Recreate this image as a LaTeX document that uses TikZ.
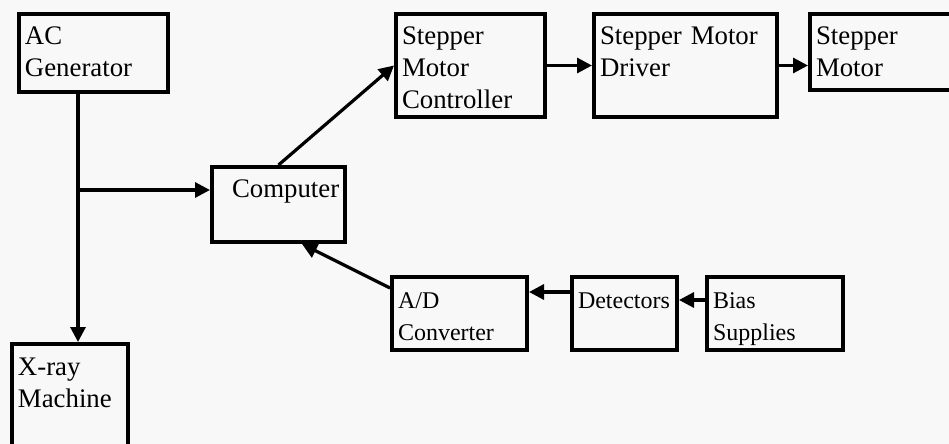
\documentclass[tikz,border=0pt]{standalone}
\usepackage{fontspec}
\setmainfont{Liberation Serif}
\usetikzlibrary{arrows.meta}
\definecolor{paper}{RGB}{248,248,248}

\begin{document}
\begin{tikzpicture}[x=0.5pt,y=-0.5pt,>={Triangle[length=7.5pt,width=7.5pt]}]

    \tikzset{
      blk/.style={draw, line width=2pt, anchor=north west, align=left,
        inner xsep=3pt, inner ysep=4.3pt, text height=11.2pt,
        font=\fontsize{13.4}{16}\selectfont},
      small/.style={font=\fontsize{12}{16}\selectfont},
      arr/.style={->, line width=1.6pt}
    }

    % Page background
    \fill[paper] (0,0) rectangle (949,444);
    \useasboundingbox (0,0) rectangle (949,444);
    \clip (0,0) rectangle (949,444);

    % Left column: generator and X-ray machine
    \node[blk, text width=68.5pt, text depth=19.2pt] (gen) at (17,12) {AC\\Generator};
    \node[blk, text width=52pt, text depth=44.2pt] (xray) at (10,342) {X-ray\\Machine};

    % Computer
    \node[blk, text width=60.5pt, text depth=17.7pt] (comp) at (210,165) {\hspace*{7pt}\mbox{Computer}};

    % Stepper motor chain
    \node[blk, text width=68.5pt, text depth=31.7pt] (ctrl) at (394,12) {Stepper\\Motor\\Controller};
    \node[blk, text width=85.5pt, text depth=31.7pt] (drv) at (592,12) {Stepper Motor\\Driver};
    \node[blk, text width=70pt, text depth=18.2pt] (mot) at (808,12) {Stepper\\Motor};

    % Measuring chain
    \node[blk, small, text width=61.5pt, text depth=16.7pt] (adc) at (390,275) {A/D\\Converter};
    \node[blk, small, text width=46.5pt, text depth=16.7pt] (det) at (570,275) {Detectors};
    \node[blk, small, text width=62pt, text depth=16.7pt] (bias) at (705,275) {Bias\\Supplies};

    % Branch point under the generator
    \coordinate (j) at (78,190);

    % Connections
    \draw[arr] (gen.south -| j) -- (xray.north -| j);
    \draw[arr] (j) -- (comp.west |- j);
    \draw[arr] (comp.north) -- (ctrl.west);
    \draw[arr] (ctrl.east) -- (drv.west);
    \draw[arr] (drv.east) -- (mot.west |- drv.east);
    \draw[arr] ([yshift=-12.5pt]bias.north west) -- ([yshift=-12.5pt]det.north east);
    \draw[arr] ([yshift=-8.5pt]det.north west) -- ([yshift=-8.5pt]adc.north east);
    \draw[arr] ([yshift=-6.5pt]adc.north west) -- ([xshift=11.75pt]comp.south);
\end{tikzpicture}
\end{document}
